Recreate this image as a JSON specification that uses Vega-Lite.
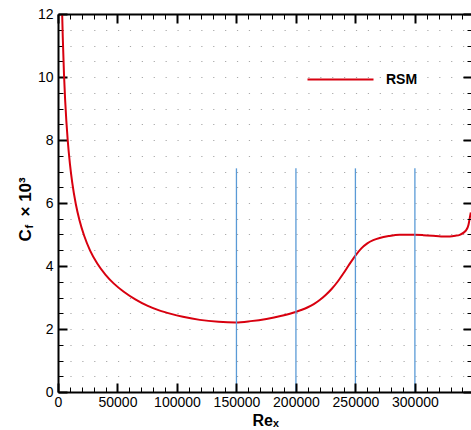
{
  "$schema": "https://vega.github.io/schema/vega-lite/v6.json",
  "autosize": "none",
  "padding": {"left": 58, "top": 14, "right": 0, "bottom": 38},
  "width": 414,
  "height": 378,
  "background": "white",
  "config": {
    "view": {"stroke": null},
    "font": "Liberation Sans"
  },
  "resolve": {"axis": {"x": "independent", "y": "independent"}},
  "layer": [
    {
      "data": {
        "values": [
          {"Re": 3500, "Cf": 12.0, "series": "RSM"},
          {"Re": 4000, "Cf": 11.27, "series": "RSM"},
          {"Re": 5000, "Cf": 10.12, "series": "RSM"},
          {"Re": 6000, "Cf": 9.27, "series": "RSM"},
          {"Re": 7000, "Cf": 8.61, "series": "RSM"},
          {"Re": 8150, "Cf": 8.0, "series": "RSM"},
          {"Re": 10000, "Cf": 7.25, "series": "RSM"},
          {"Re": 12000, "Cf": 6.64, "series": "RSM"},
          {"Re": 15000, "Cf": 5.96, "series": "RSM"},
          {"Re": 18000, "Cf": 5.46, "series": "RSM"},
          {"Re": 22000, "Cf": 4.96, "series": "RSM"},
          {"Re": 27000, "Cf": 4.49, "series": "RSM"},
          {"Re": 33000, "Cf": 4.08, "series": "RSM"},
          {"Re": 40000, "Cf": 3.72, "series": "RSM"},
          {"Re": 47000, "Cf": 3.44, "series": "RSM"},
          {"Re": 55000, "Cf": 3.19, "series": "RSM"},
          {"Re": 65000, "Cf": 2.94, "series": "RSM"},
          {"Re": 75000, "Cf": 2.74, "series": "RSM"},
          {"Re": 85000, "Cf": 2.59, "series": "RSM"},
          {"Re": 95000, "Cf": 2.48, "series": "RSM"},
          {"Re": 105000, "Cf": 2.39, "series": "RSM"},
          {"Re": 119200, "Cf": 2.29, "series": "RSM"},
          {"Re": 135000, "Cf": 2.23, "series": "RSM"},
          {"Re": 149300, "Cf": 2.21, "series": "RSM"},
          {"Re": 162000, "Cf": 2.25, "series": "RSM"},
          {"Re": 175200, "Cf": 2.32, "series": "RSM"},
          {"Re": 188000, "Cf": 2.42, "series": "RSM"},
          {"Re": 199800, "Cf": 2.54, "series": "RSM"},
          {"Re": 205000, "Cf": 2.61, "series": "RSM"},
          {"Re": 210000, "Cf": 2.69, "series": "RSM"},
          {"Re": 215000, "Cf": 2.79, "series": "RSM"},
          {"Re": 220000, "Cf": 2.92, "series": "RSM"},
          {"Re": 225000, "Cf": 3.08, "series": "RSM"},
          {"Re": 230000, "Cf": 3.27, "series": "RSM"},
          {"Re": 235000, "Cf": 3.5, "series": "RSM"},
          {"Re": 240000, "Cf": 3.77, "series": "RSM"},
          {"Re": 245000, "Cf": 4.06, "series": "RSM"},
          {"Re": 250000, "Cf": 4.33, "series": "RSM"},
          {"Re": 255000, "Cf": 4.56, "series": "RSM"},
          {"Re": 260000, "Cf": 4.72, "series": "RSM"},
          {"Re": 265000, "Cf": 4.82, "series": "RSM"},
          {"Re": 270400, "Cf": 4.89, "series": "RSM"},
          {"Re": 278000, "Cf": 4.95, "series": "RSM"},
          {"Re": 287200, "Cf": 4.99, "series": "RSM"},
          {"Re": 299300, "Cf": 4.99, "series": "RSM"},
          {"Re": 307000, "Cf": 4.98, "series": "RSM"},
          {"Re": 315200, "Cf": 4.96, "series": "RSM"},
          {"Re": 322000, "Cf": 4.94, "series": "RSM"},
          {"Re": 329300, "Cf": 4.94, "series": "RSM"},
          {"Re": 334000, "Cf": 4.96, "series": "RSM"},
          {"Re": 337700, "Cf": 4.99, "series": "RSM"},
          {"Re": 341000, "Cf": 5.06, "series": "RSM"},
          {"Re": 343300, "Cf": 5.15, "series": "RSM"},
          {"Re": 345000, "Cf": 5.3, "series": "RSM"},
          {"Re": 346100, "Cf": 5.52, "series": "RSM"},
          {"Re": 347000, "Cf": 5.7, "series": "RSM"}
        ]
      },
      "mark": {"type": "line", "strokeWidth": 2, "interpolate": "monotone", "clip": true},
      "encoding": {
        "x": {
          "field": "Re", "type": "quantitative",
          "scale": {"domain": [0, 348000], "nice": false, "zero": false},
          "axis": {
            "orient": "bottom",
            "values": [0,10000,20000,30000,40000,50000,60000,70000,80000,90000,100000,110000,120000,130000,140000,150000,160000,170000,180000,190000,200000,210000,220000,230000,240000,250000,260000,270000,280000,290000,300000,310000,320000,330000,340000],
            "format": "d",
            "labelExpr": "datum.value % 50000 === 0 ? datum.label : ''",
            "labelOverlap": false,
            "labelFlush": false,
            "labelFont": "Liberation Sans",
            "labelFontSize": 14,
            "labelColor": "#000",
            "labelPadding": 12,
            "tickSize": {"condition": {"test": "datum.value % 50000 === 0", "value": -9}, "value": -5},
            "tickWidth": {"condition": {"test": "datum.value % 50000 === 0", "value": 2}, "value": 1},
            "tickColor": "#000",
            "domainColor": "#000",
            "domainWidth": 2,
            "grid": false,
            "zindex": 1,
            "title": "Reₓ",
            "titleFont": "Liberation Sans",
            "titleFontWeight": "bold",
            "titleFontSize": 16,
            "titleColor": "#000",
            "titleAlign": "left",
            "titleBaseline": "alphabetic",
            "titleAngle": 0,
            "titleX": 194,
            "titleY": 33
          }
        },
        "y": {
          "field": "Cf", "type": "quantitative",
          "scale": {"domain": [0, 12], "nice": false, "zero": false},
          "axis": {
            "orient": "left",
            "values": [0,0.5,1,1.5,2,2.5,3,3.5,4,4.5,5,5.5,6,6.5,7,7.5,8,8.5,9,9.5,10,10.5,11,11.5,12],
            "labelExpr": "datum.value % 2 === 0 ? format(datum.value, 'd') : ''",
            "labelOverlap": false,
            "labelFlush": false,
            "labelFont": "Liberation Sans",
            "labelFontSize": 14,
            "labelColor": "#000",
            "labelPadding": 14,
            "tickSize": {"condition": {"test": "datum.value % 2 === 0", "value": -9}, "value": -5},
            "tickWidth": {"condition": {"test": "datum.value % 2 === 0", "value": 2}, "value": 1},
            "tickColor": "#000",
            "domainColor": "#000",
            "domainWidth": 2,
            "grid": true,
            "gridColor": "#a8a8a8",
            "gridWidth": 1,
            "gridDash": [1.2, 10.697],
            "zindex": 0,
            "title": "C",
            "titleFont": "Liberation Sans",
            "titleFontWeight": "bold",
            "titleFontSize": 17,
            "titleColor": "#000",
            "titleAngle": -90,
            "titleAlign": "left",
            "titleBaseline": "alphabetic",
            "titleX": -28,
            "titleY": 227
          }
        },
        "color": {
          "field": "series", "type": "nominal",
          "scale": {"domain": ["RSM"], "range": ["#d8000f"]},
          "legend": {
            "orient": "none",
            "legendX": 248,
            "legendY": 31,
            "title": null,
            "padding": 0,
            "symbolType": "stroke",
            "symbolSize": 4356,
            "symbolStrokeWidth": 2.2,
            "labelFont": "Liberation Sans",
            "labelFontSize": 14,
            "labelFontWeight": "bold",
            "labelColor": "#000",
            "labelOffset": 11
          }
        }
      }
    },
    {
      "data": {
        "values": [
          {"Re": 150000, "Cf": 0, "Cf2": 7.1},
          {"Re": 200000, "Cf": 0, "Cf2": 7.1},
          {"Re": 250000, "Cf": 0, "Cf2": 7.1},
          {"Re": 300000, "Cf": 0, "Cf2": 7.1}
        ]
      },
      "mark": {"type": "rule", "color": "#5a9ad6", "strokeWidth": 1.3},
      "encoding": {
        "x": {
          "field": "Re", "type": "quantitative",
          "axis": {
            "orient": "top",
            "values": [0,10000,20000,30000,40000,50000,60000,70000,80000,90000,100000,110000,120000,130000,140000,150000,160000,170000,180000,190000,200000,210000,220000,230000,240000,250000,260000,270000,280000,290000,300000,310000,320000,330000,340000],
            "labels": false,
            "tickSize": {"condition": {"test": "datum.value % 50000 === 0", "value": -9}, "value": -5},
            "tickWidth": {"condition": {"test": "datum.value % 50000 === 0", "value": 2}, "value": 1},
            "tickColor": "#000",
            "domainColor": "#000",
            "domainWidth": 2,
            "grid": false,
            "zindex": 1,
            "title": "f",
            "titleFont": "Liberation Sans",
            "titleFontWeight": "bold",
            "titleFontSize": 11,
            "titleColor": "#000",
            "titleAngle": -90,
            "titleAlign": "left",
            "titleBaseline": "alphabetic",
            "titleX": -26,
            "titleY": 214
          }
        },
        "y": {
          "field": "Cf", "type": "quantitative",
          "axis": {
            "orient": "right",
            "values": [0,0.5,1,1.5,2,2.5,3,3.5,4,4.5,5,5.5,6,6.5,7,7.5,8,8.5,9,9.5,10,10.5,11,11.5,12],
            "labels": false,
            "tickSize": {"condition": {"test": "datum.value % 2 === 0", "value": -9}, "value": -5},
            "tickWidth": {"condition": {"test": "datum.value % 2 === 0", "value": 2}, "value": 1},
            "tickColor": "#000",
            "domainColor": "#000",
            "domainWidth": 2,
            "grid": false,
            "zindex": 1,
            "title": "× 10³",
            "titleFont": "Liberation Sans",
            "titleFontWeight": "bold",
            "titleFontSize": 17,
            "titleColor": "#000",
            "titleAngle": -90,
            "titleAlign": "left",
            "titleBaseline": "alphabetic",
            "titleX": -442,
            "titleY": 202
          }
        },
        "y2": {"field": "Cf2"}
      }
    }
  ]
}
